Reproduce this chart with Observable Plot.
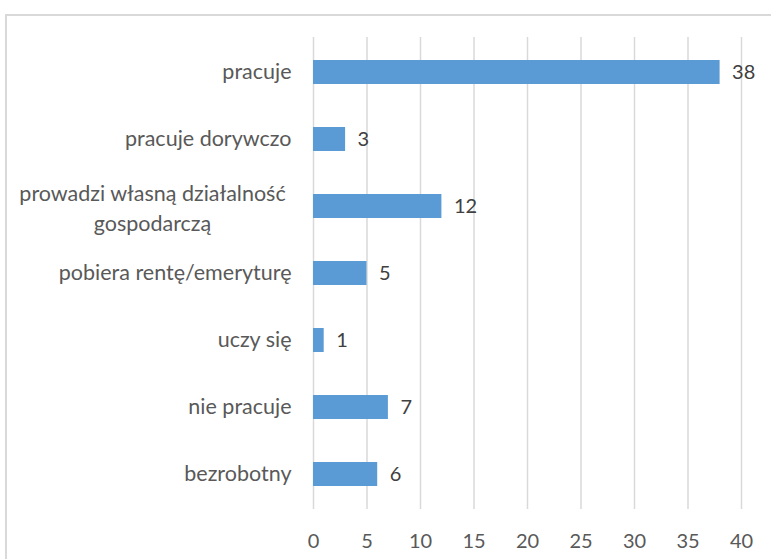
<!DOCTYPE html>
<html>
<head>
<meta charset="utf-8">
<script src="https://cdn.jsdelivr.net/npm/d3@7"></script>
<script src="https://cdn.jsdelivr.net/npm/@observablehq/plot@0.6"></script>
<style>
  html, body { margin: 0; padding: 0; background: #fff; }
  #wrap { position: relative; width: 771px; height: 559px; overflow: hidden; }
  #border { position: absolute; left: 5px; top: 14px; width: 900px; height: 700px; border: 2px solid #d9d9d9; box-sizing: border-box; pointer-events: none; }
  #chart { position: absolute; left: 0; top: 0; }
</style>
</head>
<body>
<div id="wrap"><div id="border"></div><div id="chart"></div></div>
<script>
const categories = ["pracuje", "pracuje dorywczo", "prowadzi własną działalność gospodarczą", "pobiera rentę/emeryturę", "uczy się", "nie pracuje", "bezrobotny"];
const values = [38, 3, 12, 5, 1, 7, 6];
const xTicks = [0, 5, 10, 15, 20, 25, 30, 35, 40];
const wrapped = {"prowadzi własną działalność gospodarczą": "prowadzi własną działalność\ngospodarczą"};

const data = categories.map((c, i) => ({category: c, value: values[i]}));
const single = data.filter(d => !wrapped[d.category]);
const multi = data.filter(d => wrapped[d.category]);

const font = "Lato, 'Open Sans', sans-serif";
const textColor = "#595959";

const chart = Plot.plot({
  width: 771,
  height: 559,
  marginLeft: 313,
  marginRight: 30,
  marginTop: 37,
  marginBottom: 50,
  style: {fontFamily: font, fontSize: "20px", color: textColor, background: "transparent"},
  x: {domain: [0, 40], ticks: xTicks},
  y: {domain: categories, paddingInner: 0.64, paddingOuter: 0.32, axis: null},
  marks: [
    Plot.gridX(xTicks, {stroke: "#d9d9d9", strokeOpacity: 1, strokeWidth: 1.5}),
    Plot.axisX(xTicks, {tickSize: 0, tickPadding: 24, fontSize: 20, fill: textColor, label: null}),
    Plot.barX(data, {x: "value", y: "category", fill: "#5b9bd5"}),
    Plot.text(data, {x: "value", y: "category", text: d => String(d.value), textAnchor: "start", dx: 12, fill: "#404040", fontSize: 20}),
    Plot.text(single, {x: 0, y: "category", text: "category", textAnchor: "end", dx: -22, fill: textColor, fontSize: 21.5}),
    Plot.text(multi, {x: 0, y: "category", text: d => wrapped[d.category], textAnchor: "middle", dx: -161, lineHeight: 1.4, fill: textColor, fontSize: 21.5})
  ]
});
document.getElementById("chart").appendChild(chart);
</script>
</body>
</html>
